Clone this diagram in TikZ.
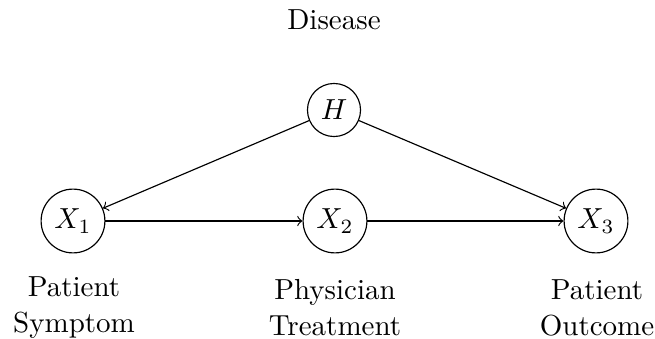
\documentclass[tikz,border=0pt]{standalone}
\begin{document}
\begin{tikzpicture}[x=0.3448pt, y=-0.3448pt,
  var/.style={draw, circle, inner sep=1pt, minimum size=22pt},
  hid/.style={draw, circle, inner sep=1pt, minimum size=18.3pt},
  lbl/.style={align=center, inner sep=0pt, anchor=base},
  edge/.style={->}]
  \useasboundingbox (0,0) rectangle (655,339);
  % causal nodes
  \node[hid] (h) at (334,110) {$H$};
  \node[var] (x1) at (73,221) {$X_1$};
  \node[var] (x2) at (335,221) {$X_2$};
  \node[var] (x3) at (596,221) {$X_3$};
  % labels (anchored at the baseline of the last line)
  \node[lbl] (ld) at (334,30) {Disease};
  \node[lbl] (l1) at (74,332) {Patient\\[0.4pt]Symptom};
  \node[lbl] (l2) at (335,335) {Physician\\[0.4pt]Treatment};
  \node[lbl] (l3) at (597,335) {Patient\\[0.4pt]Outcome};
  % edges
  \draw[edge] (h) -- (x1);
  \draw[edge] (h) -- (x3);
  \draw[edge] (x1) -- (x2);
  \draw[edge] (x2) -- (x3);
\end{tikzpicture}
\end{document}
